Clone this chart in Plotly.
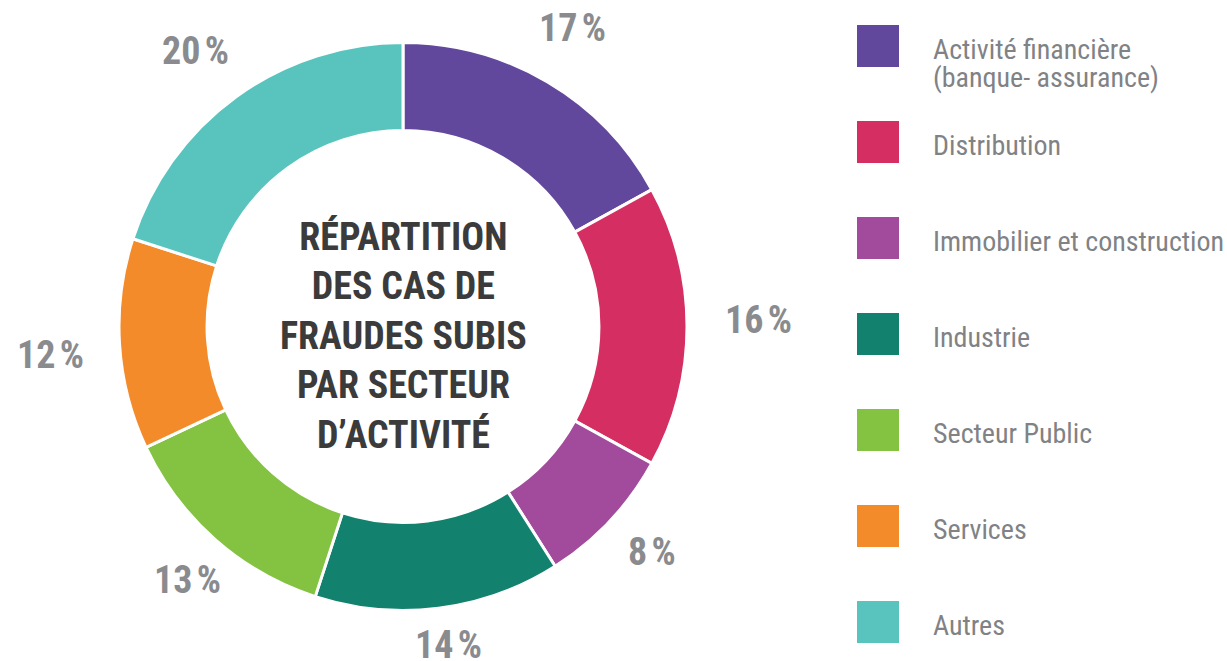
import math
import plotly.graph_objects as go

categories = ["Activité financière<br>(banque- assurance)", "Distribution",
              "Immobilier et construction", "Industrie", "Secteur Public",
              "Services", "Autres"]
values = [17, 16, 8, 14, 13, 12, 20]
colors = ["#62489d", "#d42e62", "#a24a9b", "#12826f", "#84c241", "#f48b2b", "#59c4be"]
center_title = "RÉPARTITION<br>DES CAS DE<br>FRAUDES SUBIS<br>PAR SECTEUR<br>D’ACTIVITÉ"

W, H = 1227, 661
cx, cy, R = 403, 326.5, 284

COND = "Liberation Sans Narrow, Roboto Condensed, DejaVu Sans Condensed, Roboto, sans-serif"

fig = go.Figure()
fig.add_trace(go.Pie(
    values=values, labels=categories, sort=False, direction="clockwise", rotation=0,
    hole=0.69, textinfo="none", hoverinfo="label+percent",
    marker=dict(colors=colors, line=dict(color="white", width=3)),
    domain=dict(x=[(cx - R) / W, (cx + R) / W], y=[1 - (cy + R) / H, 1 - (cy - R) / H]),
    showlegend=False,
))

annotations = []
total = sum(values)
cum = 0
for v in values:
    mid = (cum + v / 2) / total * 2 * math.pi - math.radians(1.0)
    cum += v
    r = (345.5 + 10 * abs(math.sin(mid)) - 25 * max(0.0, -math.cos(mid))
         - 8 * max(0.0, math.cos(mid)))
    px = cx + r * math.sin(mid)
    py = cy - r * math.cos(mid)
    annotations.append(dict(
        x=px / W, y=1 - py / H, xref="paper", yref="paper", showarrow=False,
        text=f"<b>{v}\u202f%</b>", xanchor="center", yanchor="middle",
        font=dict(family=COND, size=38, color="#8a8b8e")))

annotations.append(dict(
    x=cx / W, y=1 - 336 / H, xref="paper", yref="paper", showarrow=False,
    text=f"<b>{center_title}</b>", xanchor="center", yanchor="middle", align="center",
    font=dict(family=COND, size=38, color="#3b3b3b")))

shapes = []
leg_x0, sq = 857, 42
for i, (cat, col) in enumerate(zip(categories, colors)):
    yc = 46 + i * 96
    shapes.append(dict(type="rect", xref="paper", yref="paper",
                       x0=leg_x0 / W, x1=(leg_x0 + sq) / W,
                       y0=1 - (yc + sq / 2) / H, y1=1 - (yc - sq / 2) / H,
                       fillcolor=col, line=dict(width=0)))
    for k, line in enumerate(cat.split("<br>")):
        ty = yc + 3 + 28 * k
        annotations.append(dict(
            x=931 / W, y=1 - ty / H, xref="paper", yref="paper", showarrow=False,
            text=line, xanchor="left", yanchor="middle", align="left",
            font=dict(family=COND, size=28, color="#808285")))

fig.update_layout(
    width=W, height=H, margin=dict(l=0, r=0, t=0, b=0),
    paper_bgcolor="white", plot_bgcolor="white",
    annotations=annotations, shapes=shapes,
)
fig.write_html("out.html", config={"displayModeBar": False},
               post_script="document.body.style.margin='0';document.body.style.overflow='hidden';")
